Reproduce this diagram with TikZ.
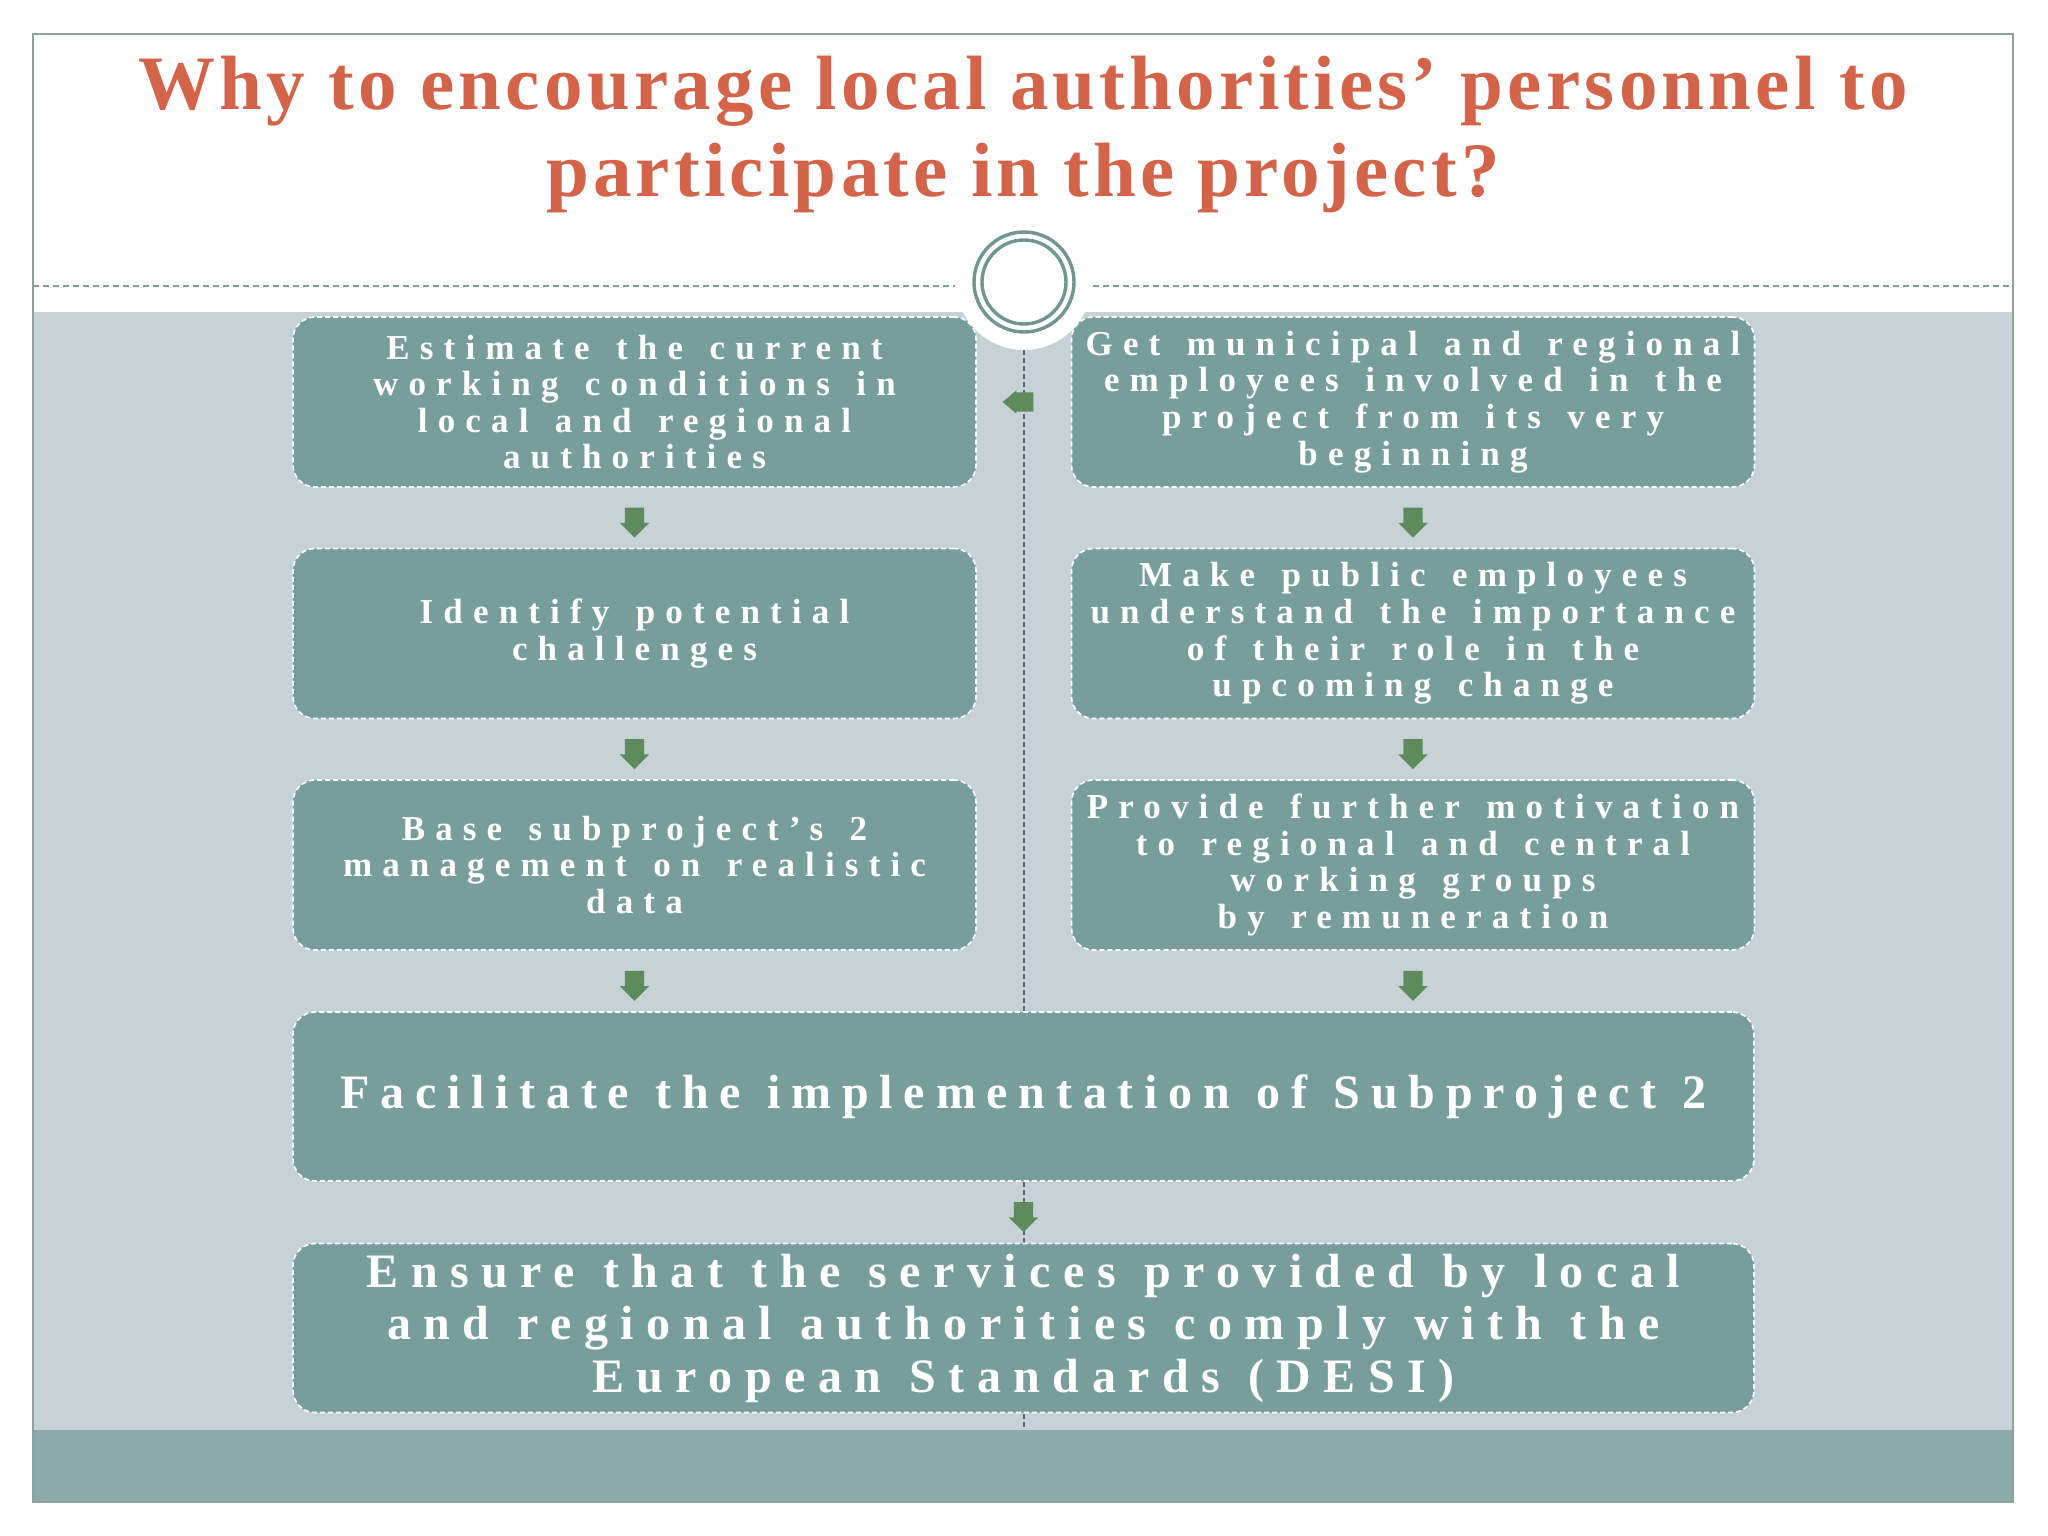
\documentclass[tikz,border=0pt]{standalone}
\usepackage{fontspec}
\setmainfont{Liberation Serif}
\newfontfamily\titlefont[LetterSpace=5.5]{Liberation Serif}
\newfontfamily\boxfont[LetterSpace=29,WordSpace=1.4]{Liberation Serif}
\newfontfamily\bigfont[LetterSpace=22.5,WordSpace=1.15]{Liberation Serif}
\newfontfamily\bigfontb[LetterSpace=26,WordSpace=1.15]{Liberation Serif}
\usetikzlibrary{shapes.arrows,calc}
\definecolor{titlec}{HTML}{D3644A}
\definecolor{boxc}{HTML}{789E9C}
\definecolor{lightbg}{HTML}{C6D2D6}
\definecolor{bandc}{HTML}{8DAAAB}
\definecolor{framec}{HTML}{8AA39F}
\definecolor{ringc}{HTML}{6F968F}
\definecolor{arrowc}{HTML}{5F8A5B}
\definecolor{vlinec}{HTML}{5A6872}
\definecolor{hlinec}{HTML}{7D9D99}
\tikzset{
  stepbox/.style={fill=boxc, draw=white, dash pattern=on 5pt off 3pt, line width=1.6pt,
    rounded corners=22pt, minimum width=683pt, minimum height=170pt, text=white,
    align=center, inner sep=0pt, font=\boxfont\bfseries\fontsize{35}{36.6}\selectfont},
  bigbox/.style={stepbox, minimum width=1461pt, minimum height=169pt,
    font=\bigfont\bfseries\fontsize{48}{52.5}\selectfont},
  bigboxb/.style={bigbox, font=\bigfontb\bfseries\fontsize{48}{52.5}\selectfont},
  darr/.style={single arrow, shape border rotate=270, fill=arrowc, draw=none,
    minimum height=30pt, single arrow head extend=5pt,
    single arrow tip angle=90, inner sep=9.5pt},
  larr/.style={single arrow, shape border rotate=180, fill=arrowc, draw=none,
    minimum height=29pt, single arrow head extend=2pt,
    single arrow tip angle=80, inner sep=9.5pt},
  vline/.style={vlinec, line width=1.3pt, dash pattern=on 5pt off 3pt},
  hline/.style={hlinec, line width=1.5pt, dash pattern=on 6pt off 4pt},
  ring/.style={circle, draw=ringc, line width=3.4pt, inner sep=0pt},
  titletext/.style={text=titlec, anchor=base, inner sep=0pt,
    font=\titlefont\bfseries\fontsize{77}{86}\selectfont}
}
\begin{document}
\begin{tikzpicture}[x=1pt,y=-1pt]
\useasboundingbox (0,0) rectangle (2048,1536);
\fill[white] (0,0) rectangle (2048,1536);
\fill[lightbg] (33,312) rectangle (2013,1430);
\fill[bandc] (33,1430) rectangle (2013,1502);
\draw[framec, line width=2pt] (33,34) rectangle (2013,1502);
% title
\node[titletext] (title1) at (1023,110) {Why to encourage local authorities’ personnel to};
\node[titletext] (title2) at (1023,196) {participate in the project?};
% horizontal dashed line
\coordinate (hl1) at (33,286); \coordinate (hl2) at (955,286);
\coordinate (hr1) at (1093,286); \coordinate (hr2) at (2013,286);
\draw[hline] (hl1) -- (hl2);
\draw[hline] (hr1) -- (hr2);
% vertical dashed line
\coordinate (vtop) at (1024,350); \coordinate (vbot) at (1024,1430);
\draw[vline] (vtop) -- (vbot);
% boxes
\node[stepbox] (l1) at (634.5,402) {Estimate the current\\working conditions in\\local and regional\\authorities};
\node[stepbox] (l2) at (634.5,633.5) {Identify potential\\challenges};
\node[stepbox] (l3) at (634.5,865) {Base subproject’s 2\\management on realistic\\data};
\node[stepbox] (r1) at (1413,402) {Get municipal and regional\\employees involved in the\\project from its very\\beginning};
\node[stepbox] (r2) at (1413,633.5) {Make public employees\\understand the importance\\of their role in the\\upcoming change};
\node[stepbox] (r3) at (1413,865) {Provide further motivation\\to regional and central\\working groups\\by remuneration};
\node[bigbox] (b1) at (1023.5,1096.5) {Facilitate the implementation of Subproject 2};
\node[bigboxb] (b2) at (1023.5,1328) {Ensure that the services provided by local\\and regional authorities comply with the\\European Standards (DESI)};
% arrows
\node[darr] (al1) at ($(l1.south)!0.5!(l2.north)$) {};
\node[darr] (al2) at ($(l2.south)!0.5!(l3.north)$) {};
\node[darr] (al3) at ($(l3.south)!0.5!(l3.south|-b1.north)$) {};
\node[darr] (ar1) at ($(r1.south)!0.5!(r2.north)$) {};
\node[darr] (ar2) at ($(r2.south)!0.5!(r3.north)$) {};
\node[darr] (ar3) at ($(r3.south)!0.5!(r3.south|-b1.north)$) {};
\node[darr] (ab) at ($(b1.south)!0.5!(b2.north)$) {};
\node[larr] (ac) at ($(l1.east)!0.5!(r1.west)$) {};
% circle
\node[circle, fill=white, minimum size=136pt, inner sep=0pt] (disc) at (1024,282) {};
\node[ring, minimum size=100pt] (ring1) at (disc) {};
\node[ring, minimum size=84pt] (ring2) at (disc) {};
\end{tikzpicture}
\end{document}
